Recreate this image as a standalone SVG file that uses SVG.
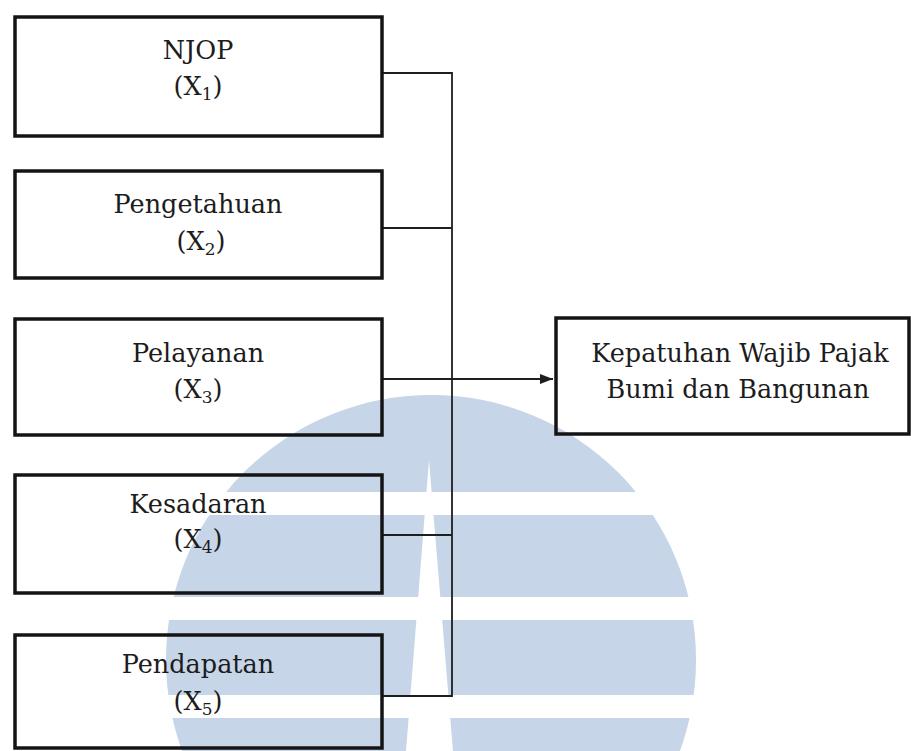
<svg xmlns="http://www.w3.org/2000/svg" width="911" height="751" viewBox="0 0 911 751">
<style>
.box{fill:none;stroke:#141414;stroke-width:3.5}
.lbl{font-family:'DejaVu Serif',serif;font-size:25.5px;fill:#1c1c1c;text-anchor:middle}
.sub{font-size:17px}
.con{fill:none;stroke:#1e1e1e;stroke-width:1.8}
.wm{fill:#c6d5e8}
</style>
<defs>
<marker id="arr" markerUnits="userSpaceOnUse" markerWidth="14" markerHeight="12" refX="13" refY="6" orient="auto">
<path d="M0,1 L13,6 L0,11 Z" fill="#1e1e1e"/>
</marker>
</defs>
<rect x="0" y="0" width="911" height="751" fill="#ffffff"/>
<g id="watermark">
<circle class="wm" cx="431" cy="660" r="265"/>
<rect x="150" y="492" width="570" height="23" fill="#ffffff"/>
<rect x="150" y="597" width="570" height="23" fill="#ffffff"/>
<rect x="150" y="695" width="570" height="23" fill="#ffffff"/>
<polygon points="429,460 406,751 453,751" fill="#ffffff"/>
</g>
<g id="connectors">
<path class="con" d="M382,73 H452 V696 H382"/>
<path class="con" d="M382,228 H452"/>
<path class="con" d="M382,535 H452"/>
<path class="con" d="M382,379 H553" marker-end="url(#arr)"/>
</g>
<g id="njop">
<rect class="box" x="15" y="17" width="367" height="119"/>
<text class="lbl" x="198" y="59">NJOP</text>
<text class="lbl" x="198" y="95">(X<tspan class="sub" dy="5">1</tspan><tspan dy="-5">)</tspan></text>
</g>
<g id="pengetahuan">
<rect class="box" x="15" y="171" width="367" height="107"/>
<text class="lbl" x="198" y="213">Pengetahuan</text>
<text class="lbl" x="201" y="250">(X<tspan class="sub" dy="5">2</tspan><tspan dy="-5">)</tspan></text>
</g>
<g id="pelayanan">
<rect class="box" x="15" y="319" width="367" height="116"/>
<text class="lbl" x="198" y="362">Pelayanan</text>
<text class="lbl" x="198" y="398">(X<tspan class="sub" dy="5">3</tspan><tspan dy="-5">)</tspan></text>
</g>
<g id="kesadaran">
<rect class="box" x="15" y="475" width="367" height="118"/>
<text class="lbl" x="198" y="513">Kesadaran</text>
<text class="lbl" x="198" y="548">(X<tspan class="sub" dy="5">4</tspan><tspan dy="-5">)</tspan></text>
</g>
<g id="pendapatan">
<rect class="box" x="15" y="635" width="367" height="113"/>
<text class="lbl" x="198" y="673">Pendapatan</text>
<text class="lbl" x="198" y="710">(X<tspan class="sub" dy="5">5</tspan><tspan dy="-5">)</tspan></text>
</g>
<g id="kepatuhan">
<rect class="box" x="556" y="318" width="353" height="116"/>
<text class="lbl" x="740" y="362">Kepatuhan Wajib Pajak</text>
<text class="lbl" x="738" y="398">Bumi dan Bangunan</text>
</g>
</svg>
